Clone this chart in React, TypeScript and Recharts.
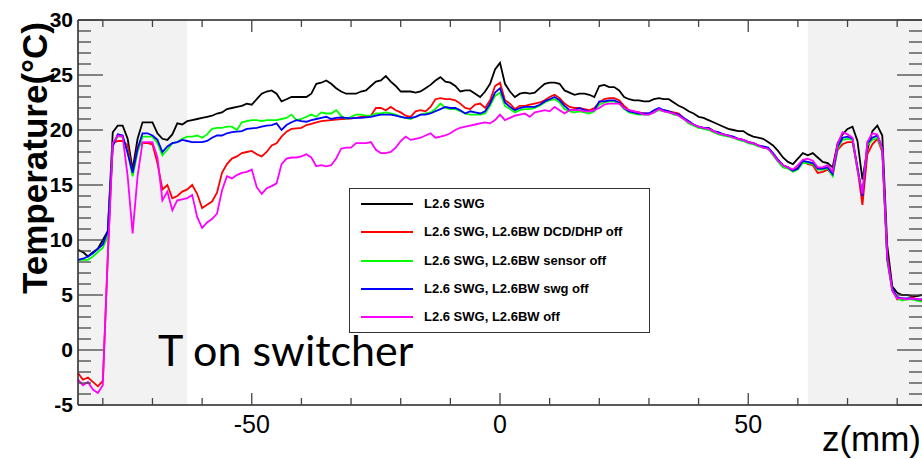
import { LineChart, Line, XAxis, YAxis, ReferenceArea, ReferenceLine } from "recharts";

// z positions (mm), one sample per mm
const zValues = [
  -85, -84, -83, -82, -81, -80, -79, -78, -77, -76,
  -75, -74, -73, -72, -71, -70, -69, -68, -67, -66,
  -65, -64, -63, -62, -61, -60, -59, -58, -57, -56,
  -55, -54, -53, -52, -51, -50, -49, -48, -47, -46,
  -45, -44, -43, -42, -41, -40, -39, -38, -37, -36,
  -35, -34, -33, -32, -31, -30, -29, -28, -27, -26,
  -25, -24, -23, -22, -21, -20, -19, -18, -17, -16,
  -15, -14, -13, -12, -11, -10, -9, -8, -7, -6,
  -5, -4, -3, -2, -1, 0, 1, 2, 3, 4,
  5, 6, 7, 8, 9, 10, 11, 12, 13, 14,
  15, 16, 17, 18, 19, 20, 21, 22, 23, 24,
  25, 26, 27, 28, 29, 30, 31, 32, 33, 34,
  35, 36, 37, 38, 39, 40, 41, 42, 43, 44,
  45, 46, 47, 48, 49, 50, 51, 52, 53, 54,
  55, 56, 57, 58, 59, 60, 61, 62, 63, 64,
  65, 66, 67, 68, 69, 70, 71, 72, 73, 74,
  75, 76, 77, 78, 79, 80, 81, 82, 83, 84,
  85,
];

// temperatures (°C)
const swg = [
  9.1, 8.9, 8.5, 8.9, 9.2, 10.0, 10.8, 19.8, 20.4, 20.4,
  19.2, 16.4, 19.2, 20.7, 20.7, 20.7, 19.7, 19.2, 19.1, 19.6,
  20.6, 20.5, 20.8, 20.9, 21.0, 21.1, 21.2, 21.3, 21.5, 21.6,
  21.9, 22.0, 22.1, 22.2, 22.4, 22.3, 22.8, 23.3, 23.5, 23.6,
  23.3, 22.6, 22.8, 23.0, 23.0, 23.0, 23.0, 23.3, 24.2, 24.3,
  24.5, 24.2, 23.8, 23.5, 23.3, 23.3, 23.3, 23.5, 23.6, 24.0,
  24.4, 24.5, 24.9, 24.4, 24.0, 23.5, 23.5, 23.5, 23.4, 23.5,
  23.8, 24.1, 24.5, 24.8, 24.4, 24.3, 24.0, 23.5, 23.6, 23.6,
  23.3, 23.0, 23.5, 24.2, 25.5, 26.1, 24.2, 23.5, 23.0, 23.3,
  23.4, 23.3, 23.4, 23.8, 24.2, 24.3, 24.3, 24.2, 23.6, 23.4,
  23.2, 23.3, 23.3, 23.2, 23.0, 24.0, 24.1, 23.9, 23.9, 23.6,
  23.0, 22.8, 22.7, 22.7, 22.6, 22.6, 22.8, 22.9, 22.8, 22.8,
  22.5, 22.2, 22.0, 21.7, 21.5, 21.2, 21.1, 20.9, 20.7, 20.5,
  20.3, 20.1, 20.0, 19.9, 19.9, 19.6, 19.4, 19.3, 19.2, 18.9,
  18.6, 18.1, 17.5, 17.1, 16.9, 17.4, 17.9, 17.7, 17.9, 17.5,
  17.1, 17.0, 16.6, 18.8, 19.6, 20.1, 20.3, 19.0, 15.5, 18.2,
  19.9, 20.4, 19.5, 9.5, 5.8, 5.2, 5.0, 5.0, 4.9, 4.9,
  5.0,
];

const dcdOff = [
  -2.1, -2.7, -2.5, -2.9, -3.3, -2.8, 8.5, 18.8, 19.0, 19.0,
  18.6, 16.0, 18.5, 18.8, 18.8, 18.7, 17.0, 14.6, 15.0, 13.8,
  14.0, 14.4, 14.6, 15.0, 14.2, 12.9, 13.2, 13.5, 14.3, 16.1,
  16.9, 17.4, 17.6, 17.9, 18.0, 18.1, 17.8, 17.6, 18.0, 18.6,
  18.8, 19.4, 19.85, 20.1, 20.15, 20.2, 20.45, 20.55, 20.7, 20.8,
  20.85, 20.9, 20.95, 21.0, 21.0, 21.05, 21.1, 21.2, 21.2, 21.3,
  22.0, 22.0, 21.8, 22.1, 21.8, 21.6, 21.3, 21.2, 21.7, 21.8,
  21.7, 22.1, 22.8, 22.9, 22.8, 22.8, 22.7, 22.4, 22.0, 21.9,
  22.3, 22.4, 22.0, 22.7, 24.0, 24.3, 22.7, 22.4, 21.9, 22.2,
  22.2, 22.3, 22.4, 22.5, 22.7, 23.0, 23.2, 22.9, 22.4, 22.1,
  22.0, 22.0, 21.9, 21.8, 22.0, 22.5, 22.8, 22.9, 22.9, 22.7,
  22.2, 21.8, 21.7, 21.6, 21.5, 21.5, 21.7, 21.9, 21.8, 21.7,
  21.6, 21.5, 21.1, 20.8, 20.5, 20.3, 20.2, 20.2, 19.9, 19.7,
  19.6, 19.5, 19.3, 19.2, 19.1, 18.9, 18.8, 18.6, 18.4, 18.3,
  17.8, 17.2, 16.8, 16.6, 16.3, 16.6, 17.2, 16.9, 16.8, 16.1,
  16.2, 16.4, 15.9, 18.2, 18.7, 18.9, 18.9, 16.5, 13.2, 17.8,
  18.7, 19.2, 18.0, 8.5, 5.5, 4.6, 4.7, 4.6, 4.8, 4.6,
  4.5,
];

const sensorOff = [
  8.2, 8.2, 8.2, 8.5, 8.9, 9.3, 10.3, 18.8, 19.4, 19.4,
  18.0, 15.8, 18.0, 19.4, 19.4, 19.4, 18.8, 17.7, 18.2, 18.8,
  18.9, 19.2, 19.4, 19.4, 19.5, 19.3, 19.6, 20.1, 20.2, 20.2,
  20.3, 20.3, 20.0, 20.7, 20.8, 20.9, 20.9, 20.8, 20.9, 20.9,
  20.9, 21.0, 21.1, 21.4, 20.9, 21.0, 21.2, 21.4, 21.2, 21.6,
  21.5, 21.5, 21.8, 21.3, 21.0, 21.2, 21.4, 21.4, 21.3, 21.3,
  21.5, 21.5, 21.6, 21.5, 21.4, 21.2, 21.1, 21.0, 21.2, 21.4,
  21.5, 21.6, 21.9, 22.4, 22.0, 21.9, 21.9, 21.7, 21.5, 21.4,
  21.4, 21.4, 21.5, 22.2, 23.1, 23.4, 22.2, 21.9, 21.6, 21.8,
  21.9, 21.9, 22.0, 22.2, 22.5, 22.7, 22.8, 22.5, 21.9, 21.7,
  21.6, 21.7, 21.6, 21.5, 21.7, 22.3, 22.5, 22.6, 22.6, 22.4,
  21.9, 21.6, 21.5, 21.4, 21.4, 21.4, 21.6, 21.8, 21.7, 21.6,
  21.4, 21.3, 21.0, 20.6, 20.4, 20.2, 20.1, 20.0, 19.8, 19.6,
  19.5, 19.4, 19.3, 19.1, 19.0, 18.8, 18.7, 18.5, 18.4, 18.3,
  17.7, 17.1, 16.6, 16.5, 16.2, 16.4, 17.0, 17.0, 16.9, 16.4,
  16.4, 16.5, 15.8, 18.3, 19.1, 19.2, 19.1, 16.3, 14.3, 18.6,
  19.1, 19.3, 18.2, 8.0, 5.4, 4.7, 4.5, 4.6, 4.6, 4.5,
  4.4,
];

const swgOff = [
  8.2, 8.3, 8.5, 8.8, 9.2, 9.6, 10.8, 18.5, 19.6, 19.5,
  17.9, 16.1, 18.3, 19.7, 19.7, 19.5, 19.1, 18.0, 18.5, 18.8,
  18.9, 19.1, 19.0, 18.9, 18.9, 18.9, 19.0, 19.3, 19.5, 19.5,
  19.7, 19.8, 19.85, 19.9, 20.1, 20.15, 20.2, 20.3, 20.4, 20.45,
  20.6, 20.0, 20.45, 20.7, 20.9, 20.8, 20.75, 20.9, 21.0, 21.1,
  21.2, 21.0, 21.1, 21.15, 21.1, 21.05, 21.1, 21.1, 21.15, 21.2,
  21.3, 21.4, 21.4, 21.4, 21.3, 21.2, 21.1, 21.1, 21.2, 21.4,
  21.4, 21.5, 21.7, 21.9, 22.1, 22.0, 22.0, 21.8, 21.5, 21.7,
  21.6, 21.5, 21.7, 22.4, 23.4, 23.8, 22.5, 22.1, 21.8, 22.0,
  22.1, 22.1, 22.1, 22.3, 22.6, 22.8, 23.0, 22.7, 22.2, 21.8,
  21.8, 22.0, 21.8, 21.7, 21.8, 22.6, 22.6, 22.7, 22.7, 22.5,
  22.0, 21.7, 21.6, 21.5, 21.5, 21.5, 21.8, 22.0, 21.8, 21.7,
  21.5, 21.4, 21.1, 20.8, 20.5, 20.3, 20.2, 20.2, 19.9, 19.8,
  19.6, 19.5, 19.4, 19.2, 19.1, 18.9, 18.8, 18.6, 18.5, 18.4,
  17.9, 17.3, 16.8, 16.6, 16.3, 16.5, 17.2, 17.1, 17.0, 16.5,
  16.5, 16.6, 16.0, 18.5, 19.3, 19.4, 19.2, 16.6, 14.0, 18.8,
  19.3, 19.5, 18.4, 8.3, 5.6, 4.8, 4.7, 4.7, 4.7, 4.6,
  4.6,
];

const bwOff = [
  -2.7, -3.2, -2.9, -3.6, -3.9, -3.2, 8.5, 18.8, 19.5, 19.4,
  15.8, 10.6, 15.8, 18.9, 18.9, 18.9, 17.5, 13.6, 14.4, 12.7,
  13.6, 13.7, 13.8, 14.1, 12.1, 11.1, 11.6, 11.9, 12.4, 14.5,
  15.8, 15.6, 15.9, 16.1, 16.2, 16.4, 14.8, 14.2, 14.7, 14.9,
  15.15, 16.9, 17.4, 17.5, 17.5, 17.6, 17.8, 17.5, 16.7, 16.8,
  16.7, 16.8, 17.4, 18.3, 18.4, 18.4, 18.8, 18.8, 18.8, 18.9,
  18.2, 17.9, 17.9, 18.0, 18.4, 19.0, 19.4, 19.1, 19.2, 19.3,
  19.5, 19.7, 19.3, 19.4, 19.5, 19.7, 20.0, 20.2, 20.3, 20.4,
  20.5, 20.6, 20.7, 20.6, 20.9, 21.4, 20.9, 21.1, 21.3, 21.4,
  21.5, 21.2, 21.6, 21.7, 21.8, 21.7, 22.1, 21.8, 21.5, 21.8,
  21.8, 21.8, 21.7, 21.7, 21.8, 22.0, 22.3, 22.4, 22.4, 22.4,
  22.0, 21.8, 21.7, 21.6, 21.4, 21.4, 21.6, 21.9, 21.7, 21.6,
  21.5, 21.3, 21.0, 20.7, 20.5, 20.3, 20.2, 20.1, 19.9, 19.7,
  19.6, 19.5, 19.3, 19.2, 19.1, 18.9, 18.8, 18.6, 18.4, 18.3,
  17.8, 17.2, 16.8, 16.6, 16.4, 16.8, 17.3, 17.4, 17.2, 16.6,
  16.6, 16.8, 16.2, 18.7, 19.8, 19.6, 19.3, 16.4, 14.2, 18.9,
  19.7, 19.6, 18.3, 8.4, 5.4, 4.7, 4.7, 4.6, 4.7, 4.6,
  4.6,
];

const xTicks = [-80, -70, -60, -50, -40, -30, -20, -10, 0, 10, 20, 30, 40, 50, 60, 70, 80];
const xLabels = [-50, 0, 50];
const yTicks = [
  -5, -4, -3, -2, -1, 0, 1, 2, 3, 4, 5, 6, 7, 8, 9, 10, 11, 12,
  13, 14, 15, 16, 17, 18, 19, 20, 21, 22, 23, 24, 25, 26, 27, 28, 29, 30,
];
const yLabels = [-5, 0, 5, 10, 15, 20, 25, 30];

// shaded z ranges (mm)
const shadedLeft = [-85, -63];
const shadedRight = [62, 85];

const series = [
  { key: "swg", name: "L2.6 SWG", color: "#000000", values: swg },
  { key: "dcdOff", name: "L2.6 SWG, L2.6BW DCD/DHP off", color: "#ff0000", values: dcdOff },
  { key: "sensorOff", name: "L2.6 SWG, L2.6BW sensor off", color: "#00ff00", values: sensorOff },
  { key: "swgOff", name: "L2.6 SWG, L2.6BW swg off", color: "#0000ff", values: swgOff },
  { key: "bwOff", name: "L2.6 SWG, L2.6BW off", color: "#ff00ff", values: bwOff },
];

const data = zValues.map((z, i) => {
  const row: Record<string, number> = { z };
  series.forEach((s) => {
    row[s.key] = s.values[i];
  });
  return row;
});

const W = 922;
const H = 459;
const PLOT_LEFT = 78;
const PLOT_TOP = 20;
const PLOT_RIGHT = 922;
const PLOT_BOTTOM = 405;
const Y_AXIS_W = 60;
const X_AXIS_H = 30;
const FRAME = "#222";
const TICK = "#444";
const ARIAL = "Liberation Sans, Arial, sans-serif";

function XTick(props: any) {
  const { x, payload } = props;
  const major = xLabels.includes(payload.value);
  const len = major ? 12 : 7;
  return (
    <g>
      <line x1={x} x2={x} y1={PLOT_BOTTOM} y2={PLOT_BOTTOM - len} stroke={TICK} strokeWidth={1.3} />
      <line x1={x} x2={x} y1={PLOT_TOP} y2={PLOT_TOP + len} stroke={TICK} strokeWidth={1.3} />
      {major && (
        <text x={x} y={433} textAnchor="middle" fontFamily={ARIAL} fontSize={25} fill="#000">
          {payload.value}
        </text>
      )}
    </g>
  );
}

function YTick(props: any) {
  const { y, payload } = props;
  const major = yLabels.includes(payload.value);
  const len = major ? 25 : 13;
  return (
    <g>
      <line x1={PLOT_LEFT} x2={PLOT_LEFT + len} y1={y} y2={y} stroke={TICK} strokeWidth={1.3} />
      <line x1={PLOT_RIGHT} x2={PLOT_RIGHT - len} y1={y} y2={y} stroke={TICK} strokeWidth={1.3} />
      {major && (
        <text x={73} y={y + 7} textAnchor="end" fontFamily={ARIAL} fontWeight="bold" fontSize={21} fill="#000">
          {payload.value}
        </text>
      )}
    </g>
  );
}

export default function App() {
  return (
    <div style={{ position: "absolute", left: 0, top: 0, width: W, height: H, background: "#fff", overflow: "hidden" }}>
      <LineChart
        width={W}
        height={H}
        data={data}
        margin={{
          top: PLOT_TOP,
          right: W - PLOT_RIGHT,
          bottom: H - PLOT_BOTTOM - X_AXIS_H,
          left: PLOT_LEFT - Y_AXIS_W,
        }}
      >
        <ReferenceArea x1={shadedLeft[0]} x2={shadedLeft[1]} fill="#f2f2f2" fillOpacity={1} stroke="none" />
        <ReferenceArea x1={shadedRight[0]} x2={shadedRight[1]} fill="#f2f2f2" fillOpacity={1} stroke="none" />
        <XAxis
          dataKey="z"
          type="number"
          domain={[-85, 85]}
          ticks={xTicks}
          interval={0}
          height={X_AXIS_H}
          allowDataOverflow
          axisLine={{ stroke: FRAME, strokeWidth: 1.5 }}
          tickLine={false}
          tick={XTick}
        />
        <YAxis
          type="number"
          domain={[-5, 30]}
          ticks={yTicks}
          interval={0}
          width={Y_AXIS_W}
          allowDataOverflow
          axisLine={{ stroke: FRAME, strokeWidth: 1.5 }}
          tickLine={false}
          tick={YTick}
        />
        <ReferenceLine y={30} stroke={FRAME} strokeWidth={1.5} />
        {series.map((s) => (
          <Line
            key={s.key}
            type="linear"
            dataKey={s.key}
            name={s.name}
            stroke={s.color}
            strokeWidth={1.8}
            dot={false}
            isAnimationActive={false}
          />
        ))}
      </LineChart>

      <svg width={W} height={H} style={{ position: "absolute", left: 0, top: 0, pointerEvents: "none" }}>
        <text
          transform="translate(47,158) rotate(-90)"
          textAnchor="middle"
          fontFamily={ARIAL}
          fontWeight="bold"
          fontSize={35}
          fill="#000"
        >
          Temperature(°C)
        </text>
        <text x={921} y={451} textAnchor="end" fontFamily={ARIAL} fontSize={35} fill="#000">
          z(mm)
        </text>
        <text x={158} y={366} fontFamily="Lato, Open Sans, sans-serif" fontSize={43} fill="#000">
          T on switcher
        </text>
      </svg>

      <div
        style={{
          position: "absolute",
          left: 349,
          top: 188,
          width: 301,
          height: 145,
          boxSizing: "border-box",
          border: "1.5px solid #333",
          background: "#fff",
          fontFamily: ARIAL,
          fontWeight: "bold",
          fontSize: 13,
        }}
      >
        {series.map((s, i) => (
          <div
            key={s.key}
            style={{ position: "absolute", left: 0, top: 1 + i * 28.3, height: 28, width: "100%" }}
          >
            <div
              style={{ position: "absolute", left: 11, top: 13, width: 52, height: 0, borderTop: `2px solid ${s.color}` }}
            />
            <div style={{ position: "absolute", left: 74, top: 0, lineHeight: "28px", whiteSpace: "nowrap" }}>
              {s.name}
            </div>
          </div>
        ))}
      </div>
    </div>
  );
}
